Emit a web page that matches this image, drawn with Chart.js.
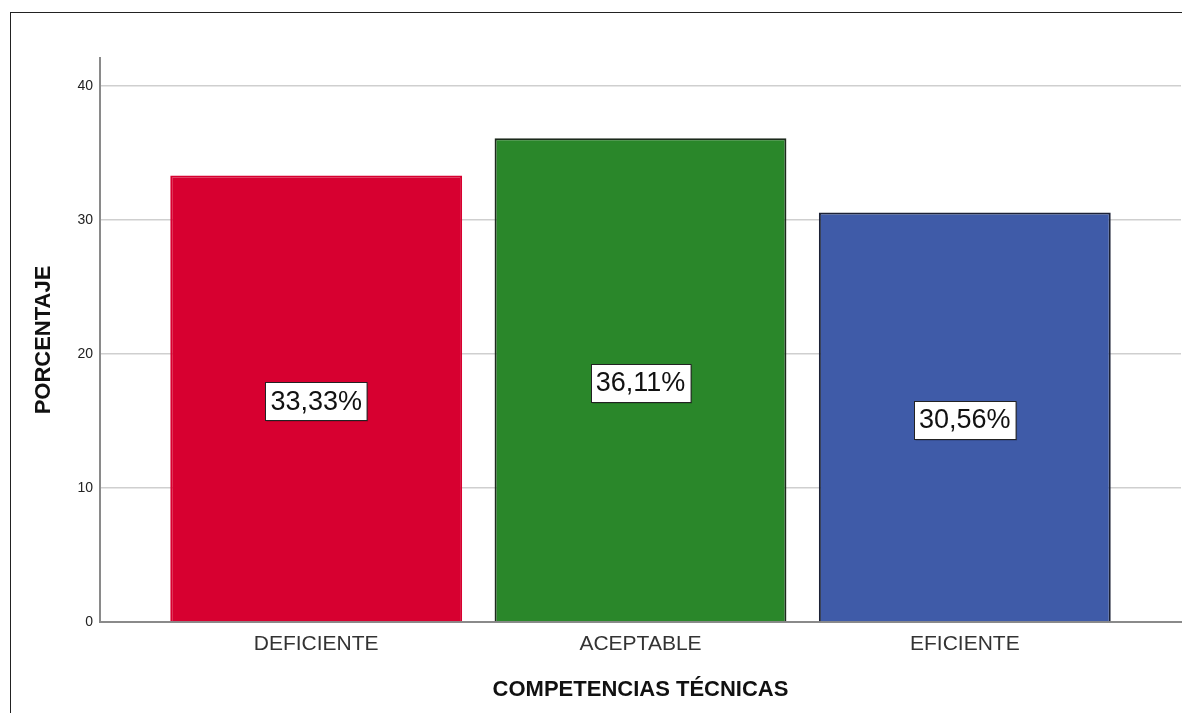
<!DOCTYPE html>
<html>
<head>
<meta charset="utf-8">
<script src="https://cdn.jsdelivr.net/npm/chart.js@4/dist/chart.umd.min.js"></script>
<style>
  html, body { margin: 0; padding: 0; background: #fff; overflow: hidden; }
  #wrap { width: 1182px; height: 713px; position: relative; }
</style>
</head>
<body>
<div id="wrap"><canvas id="c" width="1182" height="713"></canvas></div>
<script>
const categories = ['DEFICIENTE', 'ACEPTABLE', 'EFICIENTE'];
const percentages = [33.33, 36.11, 30.56];
const yTickValues = [0, 10, 20, 30, 40];
const barColors = ['#D70030', '#2A872A', '#3F5BA8'];
const barBorders = ['#D70030', '#1c2a1c', '#1c2236'];
const xTitle = 'COMPETENCIAS TÉCNICAS';
const yTitle = 'PORCENTAJE';

const FONT = '"Liberation Sans", Arial, Helvetica, sans-serif';

const framePlugin = {
  id: 'frame',
  beforeDraw(chart) {
    const ctx = chart.ctx;
    ctx.save();
    ctx.fillStyle = '#ffffff';
    ctx.fillRect(0, 0, chart.width, chart.height);
    ctx.strokeStyle = '#222';
    ctx.lineWidth = 1;
    ctx.strokeRect(10.5, 12.5, chart.width + 20, chart.height + 20);
    ctx.restore();
  }
};

const valueLabelPlugin = {
  id: 'valueLabels',
  afterDatasetsDraw(chart) {
    const ctx = chart.ctx;
    const meta = chart.getDatasetMeta(0);
    ctx.save();
    ctx.font = '27px ' + FONT;
    ctx.textAlign = 'center';
    ctx.textBaseline = 'middle';
    meta.data.forEach((bar, i) => {
      const txt = percentages[i].toFixed(2).replace('.', ',') + '%';
      const cx = bar.x;
      const cy = (bar.y + bar.base) / 2 + 3;
      const w = ctx.measureText(txt).width + 10;
      const h = 38;
      const x0 = Math.round(cx - w / 2) + 0.5;
      const y0 = Math.round(cy - h / 2) + 0.5;
      ctx.fillStyle = 'rgba(0,0,0,0.25)';
      ctx.fillRect(x0 + 1, y0 + 1, w, h);
      ctx.fillStyle = '#ffffff';
      ctx.fillRect(x0, y0, w, h);
      ctx.strokeStyle = '#222';
      ctx.lineWidth = 1;
      ctx.strokeRect(x0, y0, w, h);
      ctx.fillStyle = '#111';
      ctx.fillText(txt, cx, cy + 1);
    });
    ctx.restore();
  }
};

new Chart(document.getElementById('c'), {
  type: 'bar',
  data: {
    datasets: [{
      data: percentages.map((v, i) => ({ x: i, y: v })),
      backgroundColor: barColors,
      borderColor: barBorders,
      borderWidth: 2,
      barPercentage: 0.9,
      categoryPercentage: 1.0
    }]
  },
  options: {
    responsive: false,
    animation: false,
    events: [],
    layout: { padding: { left: 0, right: 1, top: 58, bottom: 0 } },
    plugins: { legend: { display: false }, tooltip: { enabled: false } },
    scales: {
      x: {
        type: 'linear',
        offset: false,
        min: -2 / 3,
        max: categories.length - 1 + 2 / 3,
        afterBuildTicks(scale) { scale.ticks = categories.map((c, i) => ({ value: i })); },
        afterFit(scale) { scale.height = 91; },
        grid: { display: false, drawTicks: false, offset: false },
        border: { display: true, color: '#8a8a8a', width: 2 },
        ticks: {
          autoSkip: false,
          maxRotation: 0,
          padding: 10,
          color: '#333',
          font: { family: FONT, size: 21 },
          callback: (v) => categories[v]
        },
        title: {
          display: true,
          text: xTitle,
          color: '#111',
          font: { family: FONT, size: 22, weight: 'bold' },
          padding: { top: 0, bottom: 10 }
        }
      },
      y: {
        min: 0,
        max: 42.1,
        afterBuildTicks(scale) { scale.ticks = yTickValues.map(v => ({ value: v })); },
        afterFit(scale) { scale.width = 100; },
        grid: { color: '#cfcfcf', lineWidth: 1.5, drawTicks: false },
        border: { display: true, color: '#8a8a8a', width: 2 },
        ticks: {
          padding: 7,
          color: '#222',
          font: { family: FONT, size: 14 }
        },
        title: {
          display: true,
          text: yTitle,
          color: '#111',
          font: { family: FONT, size: 22, weight: 'bold' },
          padding: { top: 31, bottom: 0 }
        }
      }
    }
  },
  plugins: [framePlugin, valueLabelPlugin]
});
</script>
</body>
</html>
